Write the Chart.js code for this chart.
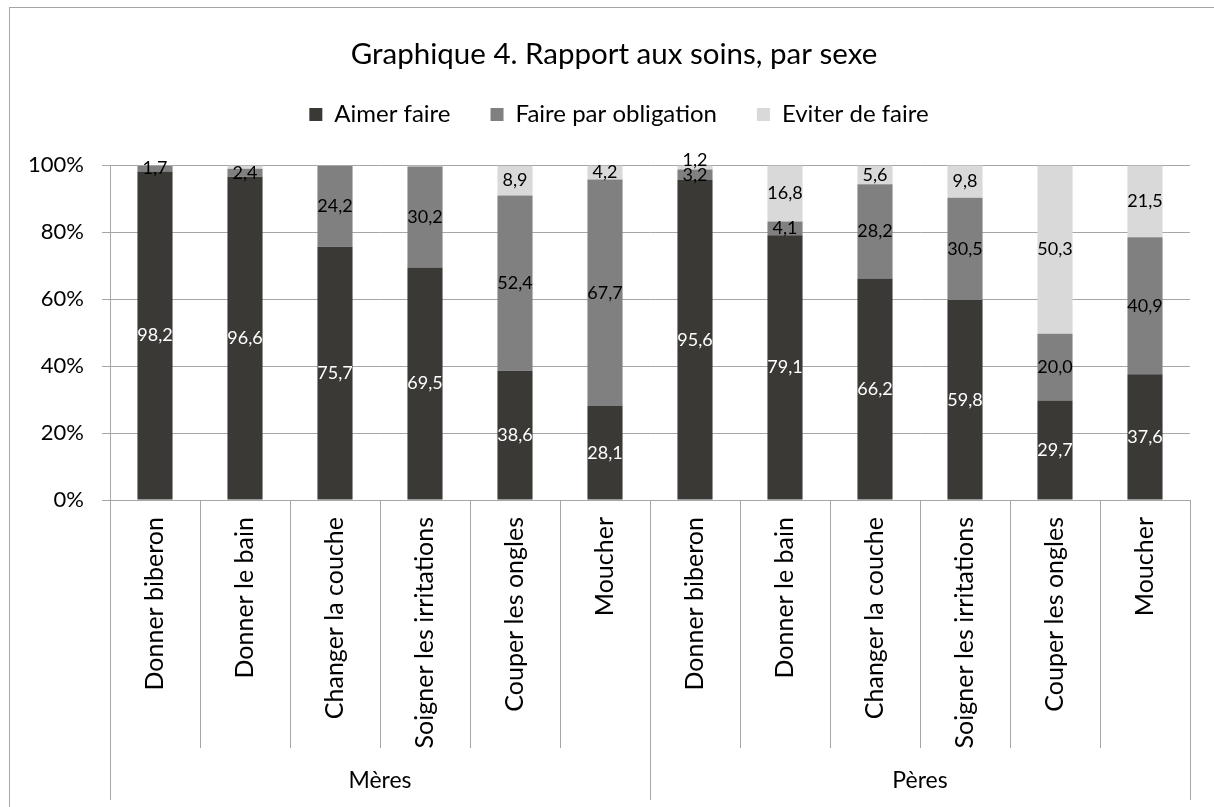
<!DOCTYPE html>
<html>
<head>
<meta charset="utf-8">
<script src="https://cdn.jsdelivr.net/npm/chart.js@4"></script>
<style>
  body { margin: 0; background: #fff; }
  #wrap { width: 1214px; height: 807px; position: relative; }
</style>
</head>
<body>
<div id="wrap"><canvas id="soins-chart"></canvas></div>
<script>
// Graphique 4 - Rapport aux soins, par sexe

// Data
const activities = ['Donner biberon', 'Donner le bain', 'Changer la couche', 'Soigner les irritations', 'Couper les ongles', 'Moucher'];
const groups = ['Mères', 'Pères'];
const categories = [...activities, ...activities];

const aimerFaire = [98.2, 96.6, 75.7, 69.5, 38.6, 28.1, 95.6, 79.1, 66.2, 59.8, 29.7, 37.6];
const faireObligation = [1.7, 2.4, 24.2, 30.2, 52.4, 67.7, 3.2, 4.1, 28.2, 30.5, 20.0, 40.9];
const eviterFaire = [0.1, 1.0, 0.1, 0.3, 8.9, 4.2, 1.2, 16.8, 5.6, 9.8, 50.3, 21.5];

const yTicks = [0, 20, 40, 60, 80, 100];

const FONT = 'Lato';
const gridColor = '#a6a6a6';

// Frame + white background, legend/title nudges
const framePlugin = {
  id: 'frame',
  beforeInit(chart) {
    // extra space between legend and plot
    const fitLegend = chart.legend.fit;
    chart.legend.fit = function () {
      fitLegend.call(chart.legend);
      this.height += 29;
    };
  },
  afterLayout(chart) {
    // title and legend sit a little right of the canvas centre
    chart.legend.left += 24;
    chart.legend.right += 24;
    chart.titleBlock.left += 19;
    chart.titleBlock.right += 19;
  },
  beforeDraw(chart) {
    const ctx = chart.ctx;
    ctx.save();
    ctx.fillStyle = '#fff';
    ctx.fillRect(0, 0, chart.width, chart.height);
    ctx.strokeStyle = gridColor;
    ctx.lineWidth = 1;
    ctx.strokeRect(9.5, 7.5, chart.width + 20, chart.height + 20);
    ctx.restore();
  }
};

// Category separators below the axis
const separatorPlugin = {
  id: 'separators',
  afterDraw(chart) {
    const xs = chart.scales.x;
    const x2 = chart.scales.x2;
    const ctx = chart.ctx;
    const step = xs.getPixelForValue(1) - xs.getPixelForValue(0);
    const start = xs.getPixelForValue(0) - step / 2;
    ctx.save();
    ctx.strokeStyle = gridColor;
    ctx.lineWidth = 1;
    for (let i = 0; i <= categories.length; i++) {
      const px = Math.round(start + i * step) + 0.5;
      const bottom = (i % activities.length === 0) ? x2.bottom : xs.bottom;
      ctx.beginPath();
      ctx.moveTo(px, chart.chartArea.bottom);
      ctx.lineTo(px, bottom);
      ctx.stroke();
    }
    ctx.restore();
  }
};

// Value labels inside the segments
const valueLabelPlugin = {
  id: 'valueLabels',
  afterDatasetsDraw(chart) {
    const ctx = chart.ctx;
    const lastTop = {};
    ctx.save();
    ctx.font = `18px ${FONT}`;
    ctx.textAlign = 'center';
    ctx.textBaseline = 'middle';
    chart.data.datasets.forEach((ds, di) => {
      const meta = chart.getDatasetMeta(di);
      meta.data.forEach((bar, i) => {
        const v = ds.data[i];
        if (v < 1.1) return;
        let y = (bar.y + bar.base) / 2;
        const h = 15;
        if (lastTop[i] !== undefined && y + h / 2 > lastTop[i]) {
          y = lastTop[i] - h / 2;
        }
        lastTop[i] = y - h / 2;
        ctx.fillStyle = di === 0 ? '#fff' : '#000';
        ctx.fillText(v.toFixed(1).replace('.', ','), bar.x, y);
      });
    });
    ctx.restore();
  }
};

const ctx = document.getElementById('soins-chart').getContext('2d');

new Chart(ctx, {
  type: 'bar',
  data: {
    labels: categories,
    datasets: [
      { label: 'Aimer faire', data: aimerFaire, backgroundColor: '#3b3936' },
      { label: 'Faire par obligation', data: faireObligation, backgroundColor: '#808080' },
      { label: 'Eviter de faire', data: eviterFaire, backgroundColor: '#d9d9d9' },
    ]
  },
  options: {
    responsive: true,
    maintainAspectRatio: false,
    animation: false,
    barPercentage: 0.39,
    categoryPercentage: 1,
    layout: { padding: { left: 0, right: 24, top: 0, bottom: 7 } },
    plugins: {
      title: {
        display: true,
        text: 'Graphique 4. Rapport aux soins, par sexe',
        color: '#000',
        font: { family: FONT, size: 29.5, weight: 'normal' },
        padding: { top: 37, bottom: -10 }
      },
      legend: {
        position: 'top',
        labels: {
          color: '#000',
          boxWidth: 13,
          boxHeight: 13,
          padding: 40,
          font: { family: FONT, size: 24 }
        }
      },
      tooltip: { enabled: false }
    },
    scales: {
      x: {
        stacked: true,
        grid: { display: false, drawTicks: false },
        border: { display: true, color: gridColor },
        ticks: {
          autoSkip: false,
          maxRotation: 90,
          minRotation: 90,
          padding: 17,
          color: '#000',
          font: { family: FONT, size: 25 }
        },
        afterFit: (scale) => { scale.height = 248; }
      },
      x2: {
        type: 'category',
        labels: groups,
        position: 'bottom',
        weight: 1,
        offset: true,
        grid: { display: false, drawTicks: false },
        border: { display: false },
        ticks: {
          padding: 19,
          color: '#000',
          font: { family: FONT, size: 23 }
        },
        afterFit: (scale) => { scale.height = 52; }
      },
      y: {
        stacked: true,
        min: 0,
        max: 100,
        afterBuildTicks: (scale) => { scale.ticks = yTicks.map(v => ({ value: v })); },
        grid: { color: gridColor, tickLength: 8 },
        border: { display: true, color: gridColor },
        ticks: {
          padding: 18,
          color: '#000',
          font: { family: FONT, size: 22 },
          callback: (value) => value + '%'
        },
        afterFit: (scale) => { scale.width = 110; }
      }
    }
  },
  plugins: [framePlugin, separatorPlugin, valueLabelPlugin]
});
</script>
</body>
</html>
